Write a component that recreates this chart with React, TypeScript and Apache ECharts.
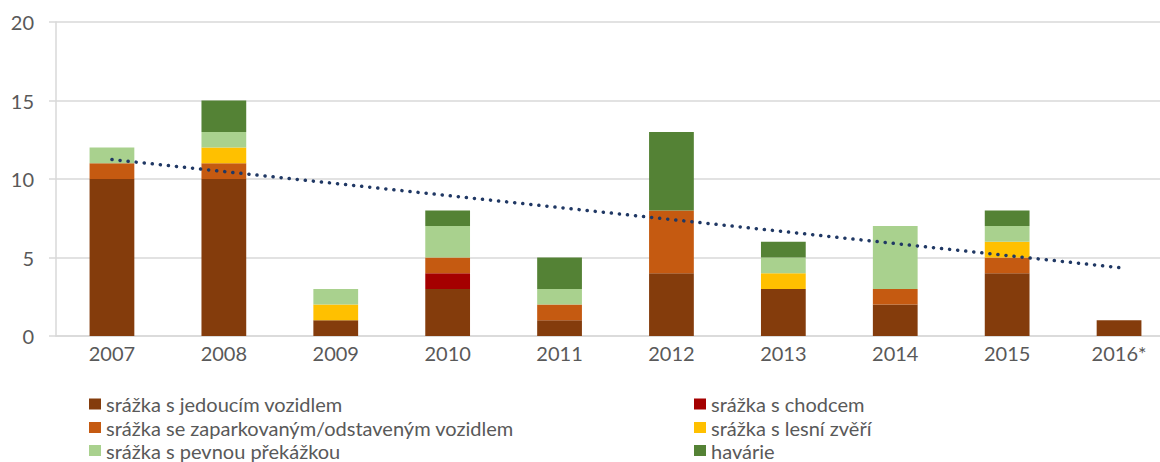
import React, { useEffect, useRef } from "react";
import * as echarts from "echarts";

const categories = ["2007", "2008", "2009", "2010", "2011", "2012", "2013", "2014", "2015", "2016*"];
const seriesNames = [
  "srážka s jedoucím vozidlem",
  "srážka s chodcem",
  "srážka se zaparkovaným/odstaveným vozidlem",
  "srážka s lesní zvěří",
  "srážka s pevnou překážkou",
  "havárie",
];
const jedoucim = [10, 10, 1, 3, 1, 4, 3, 2, 4, 1];
const chodcem = [0, 0, 0, 1, 0, 0, 0, 0, 0, 0];
const zaparkovanym = [1, 1, 0, 1, 1, 4, 0, 1, 1, 0];
const zveri = [0, 1, 1, 0, 0, 0, 1, 0, 1, 0];
const prekazkou = [1, 1, 1, 2, 1, 0, 1, 4, 1, 0];
const havarie = [0, 2, 0, 1, 2, 5, 1, 0, 1, 0];
const trendStart = 11.24; // linear trend at 2007
const trendEnd = 4.36; // linear trend at 2016*
const yTicks = [0, 5, 10, 15, 20];

const colors = ["#843C0C", "#A50000", "#C55A11", "#FFC000", "#A9D18E", "#548235"];
const values = [jedoucim, chodcem, zaparkovanym, zveri, prekazkou, havarie];
const FONT = "Lato";
const TXT = "#595959";

// legend placement: [left, top] per series index
const legendPos: [number, number][] = [
  [89, 394],
  [694, 394],
  [89, 417.5],
  [694, 417.5],
  [89, 440.5],
  [694, 440.5],
];

export default function App() {
  const ref = useRef<HTMLDivElement>(null);
  useEffect(() => {
    if (!ref.current) return;
    const chart = echarts.init(ref.current, undefined, { renderer: "svg" });
    const barSeries = seriesNames.map((name, i) => ({
      name,
      type: "bar",
      stack: "total",
      barWidth: "40%",
      data: values[i],
      itemStyle: { color: colors[i] },
      z: 2,
    }));
    const legends = seriesNames.map((name, i) => ({
      orient: "horizontal",
      left: legendPos[i][0],
      top: legendPos[i][1],
      itemWidth: 12,
      itemHeight: 11,
      icon: "rect",
      padding: 0,
      data: [name],
      textStyle: { color: TXT, fontFamily: FONT, fontSize: 20, lineHeight: 18 },
    }));
    chart.setOption({
      animation: false,
      grid: {
        left: 56,
        top: 22,
        width: 1119,
        height: 314,
        containLabel: false,
        outerBoundsMode: "none",
      },
      xAxis: {
        type: "category",
        data: categories,
        axisLine: { show: true, lineStyle: { color: "#d9d9d9", width: 1.5 } },
        axisTick: { show: false },
        axisLabel: { color: TXT, fontFamily: FONT, fontSize: 20, margin: 7 },
      },
      yAxis: {
        type: "value",
        min: yTicks[0],
        max: yTicks[yTicks.length - 1],
        interval: 5,
        axisLine: { show: true, lineStyle: { color: "#d9d9d9", width: 1.5 } },
        axisTick: { show: true, length: 7, lineStyle: { color: "#d9d9d9", width: 1.5 } },
        splitLine: { show: true, lineStyle: { color: "#d9d9d9", width: 1.5 } },
        axisLabel: { color: TXT, fontFamily: FONT, fontSize: 20, margin: 22 },
      },
      legend: legends,
      series: [
        ...barSeries,
        {
          name: "trend",
          type: "line",
          data: [
            [categories[0], trendStart],
            [categories[categories.length - 1], trendEnd],
          ],
          symbol: "none",
          z: 5,
          lineStyle: { color: "#203864", width: 3.5, type: [0.1, 8], cap: "round" },
        },
      ],
    });
    return () => chart.dispose();
  }, []);
  return (
    <div
      ref={ref}
      style={{ position: "absolute", left: 0, top: 0, width: 1160, height: 462, background: "#fff" }}
    />
  );
}
